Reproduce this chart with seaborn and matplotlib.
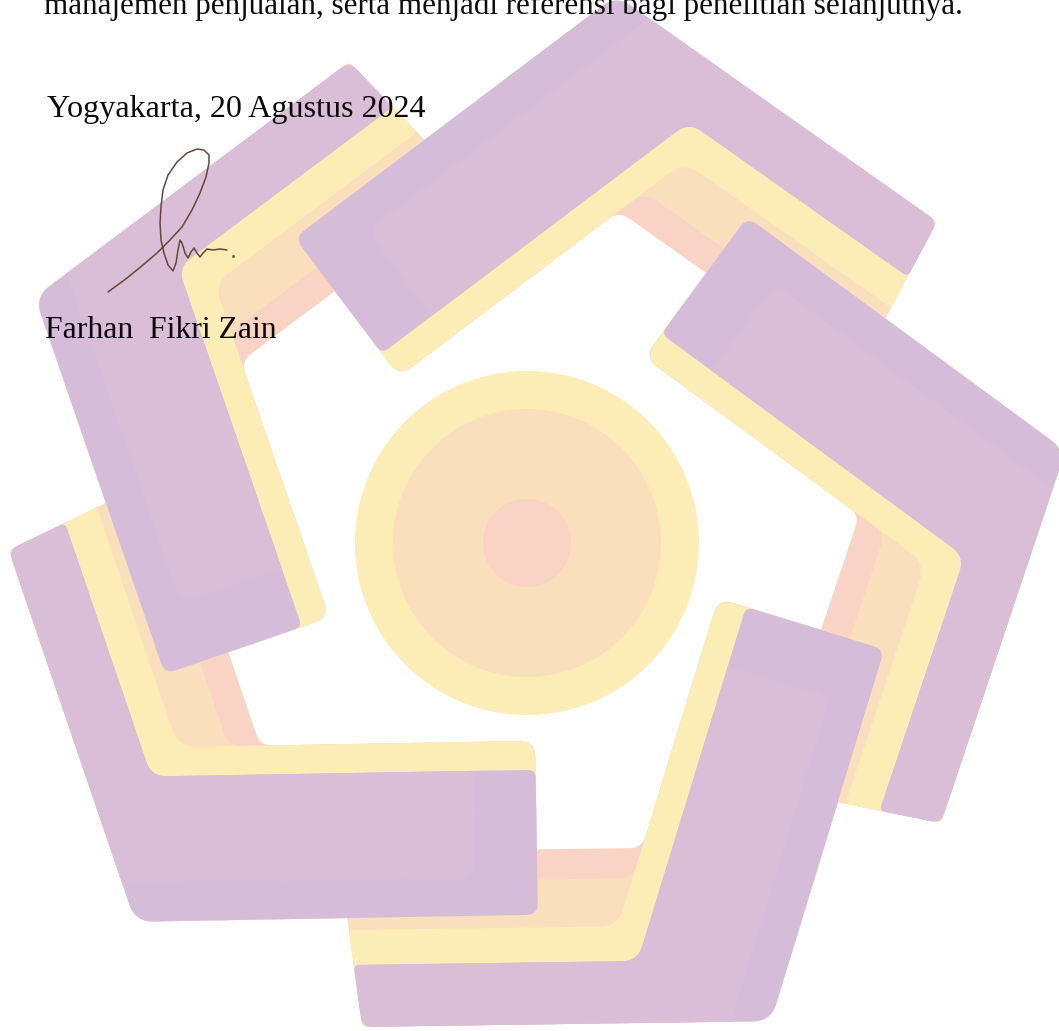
import numpy as np
import matplotlib
matplotlib.use("Agg")
import matplotlib.pyplot as plt
import seaborn as sns
import pandas as pd
from matplotlib.patches import Polygon, Circle, PathPatch
from matplotlib.path import Path

# ---------------- text content ----------------
body_line = "manajemen penjualan, serta menjadi referensi bagi penelitian selanjutnya."
place_date = "Yogyakarta, 20 Agustus 2024"
signer = "Farhan  Fikri Zain"
text_left = [44, 47, 45]
text_right = [965, 425, 277]
text_baseline = [14, 117, 338]

# ---------------- watermark logo ----------------
circle_center = (527, 543)
circle_radii = [172, 134, 44]
circle_colors = ["#fcecb6", "#fadfbd", "#f9d3c3"]

rot_center = (527, 538)
piece_angles = [0, -72, -144, -216, -288]
piece_tweak = [0.0, 0.0, 1.3, 0.0, 0.0]          # extra turn about own corner (deg)
piece_shift = [(0, 0), (0, -8), (-4, -7), (-2, -2), (-6, 13)]
thick_end_adj = [0, -14, -8, 0, -4]
thin_end_adj = [0, 16, 0, 0, 0]
draw_order = [1, 0, 4, 3, 2]

# reference piece (bottom-left one), pixel frame
thin_dir_deg = 71.2
thick_dir_deg = -1.0
thin_offsets = {"outer": -169, "purple": -107, "yellow": -72, "peach": -24, "pink": 6}
thick_offsets = {"outer": -924, "band": -886, "purple": -779, "inner": -750}
thick_end_pos = [522, 460]
thin_end_pts = [(9, 550), (102, 505)]

col_lavender = "#d5bdda"
col_purple = "#dabed7"
col_yellow = "#fcecb6"
col_peach = "#fadfbd"
col_pink = "#f9d3c3"

# signature stroke
sig_x = [108, 127, 143, 157, 170, 182, 192, 200, 206, 209, 209, 204, 197, 187, 177, 168, 163,
         161, 160, 161, 164, 168, 173, 176, 178, 180, 182, 185, 188, 191, 194, 197, 200, 203,
         207, 213, 220, 227]
sig_y = [292, 278, 265, 253, 240, 227, 210, 193, 177, 163, 155, 150, 149, 153, 162, 175, 190,
         207, 223, 240, 253, 265, 271, 263, 250, 240, 243, 253, 258, 252, 248, 253, 257, 253,
         249, 250, 249, 250]
sig_dot = (233, 256)

# ---------------- helpers ----------------
th = np.deg2rad(thin_dir_deg)
u = np.array([np.cos(th), np.sin(th)])
n_vec = np.array([u[1], -u[0]])
tk = np.deg2rad(thick_dir_deg)
v = np.array([np.cos(tk), np.sin(tk)])
m_vec = np.array([v[1], -v[0]])
p_a, p_b = np.array(thin_end_pts[0], float), np.array(thin_end_pts[1], float)
d_end = p_b - p_a
e_vec = np.array([-d_end[1], d_end[0]])
e_vec = e_vec / np.linalg.norm(e_vec)
if e_vec[1] < 0:
    e_vec = -e_vec
e_c0 = e_vec @ p_a


def inter(a1, c1, a2, c2):
    return np.linalg.solve(np.array([a1, a2]), np.array([c1, c2]))


def rounded(pts, radii, k=10):
    out = []
    nn = len(pts)
    for i in range(nn):
        p = pts[i]
        rr = radii[i]
        if rr <= 0:
            out.append(p)
            continue
        prv = pts[i - 1]
        nxt = pts[(i + 1) % nn]
        d1 = prv - p
        d2 = nxt - p
        l1 = np.linalg.norm(d1)
        l2 = np.linalg.norm(d2)
        r1 = min(rr, l1 / 2)
        r2 = min(rr, l2 / 2)
        a = p + d1 / l1 * r1
        b = p + d2 / l2 * r2
        t = np.linspace(0, 1, k)[:, None]
        out.extend((1 - t) ** 2 * a + 2 * (1 - t) * t * p + t ** 2 * b)
    return np.array(out)


def rot_about(P, ang, c):
    a = np.deg2rad(ang)
    c = np.asarray(c, float)
    d = np.asarray(P, float) - c
    R = np.array([[np.cos(a), -np.sin(a)], [np.sin(a), np.cos(a)]])
    return d @ R.T + c


vertex_local = inter(n_vec, thin_offsets["outer"], m_vec, thick_offsets["outer"])


def place(P, k):
    Q = rot_about(P, piece_angles[k], rot_center)
    vtx = rot_about(vertex_local[None, :], piece_angles[k], rot_center)[0]
    Q = rot_about(Q, piece_tweak[k], vtx)
    return Q + np.array(piece_shift[k], float)


def l_shape(s, h, end, ec, radii):
    pts = [
        inter(n_vec, thin_offsets["outer"], e_vec, ec),
        inter(n_vec, thin_offsets["outer"], m_vec, thick_offsets["outer"]),
        inter(m_vec, thick_offsets["outer"], v, end),
        inter(v, end, m_vec, h),
        inter(m_vec, h, n_vec, s),
        inter(n_vec, s, e_vec, ec),
    ]
    return rounded(pts, radii)


def band_shape(end2, ec):
    pts = [
        inter(n_vec, thin_offsets["outer"], e_vec, ec),
        inter(n_vec, thin_offsets["outer"], m_vec, thick_offsets["band"]),
        inter(m_vec, thick_offsets["band"], v, end2),
        inter(v, end2, m_vec, thick_offsets["purple"]),
        inter(m_vec, thick_offsets["purple"], n_vec, thin_offsets["purple"]),
        inter(n_vec, thin_offsets["purple"], e_vec, ec),
    ]
    return rounded(pts, [10, 0, 16, 0, 16, 6])


def piece_shapes(k):
    end = thick_end_pos[0] + thick_end_adj[k]
    end2 = thick_end_pos[1] + thick_end_adj[k]
    ec = e_c0 - thin_end_adj[k]
    shp = [
        (l_shape(thin_offsets["pink"], thick_offsets["inner"], end, ec, [6, 18, 12, 16, 12, 6]), col_pink),
        (l_shape(thin_offsets["peach"], thick_offsets["inner"], end, ec, [6, 18, 12, 16, 14, 6]), col_peach),
        (l_shape(thin_offsets["yellow"], thick_offsets["inner"], end, ec, [10, 18, 12, 18, 18, 6]), col_yellow),
        (l_shape(thin_offsets["purple"], thick_offsets["purple"], end, ec, [12, 18, 12, 8, 14, 6]), col_lavender),
        (band_shape(end2, ec), col_purple),
    ]
    return [(place(p, k), c) for p, c in shp]


def signed_area(P):
    x, y = P[:, 0], P[:, 1]
    return 0.5 * np.sum(x * np.roll(y, -1) - np.roll(x, -1) * y)


# ---------------- figure ----------------
sns.set_style("white")
plt.rcParams["font.family"] = ["Liberation Serif", "DejaVu Serif"]
fig = plt.figure(figsize=(10.59, 10.31), dpi=100)
ax = fig.add_axes([0, 0, 1, 1])
ax.set_xlim(0, 1059)
ax.set_ylim(1031, 0)
ax.axis("off")

for r, c in zip(circle_radii, circle_colors):
    ax.add_patch(Circle(circle_center, r, facecolor=c, edgecolor="none", zorder=1))

all_shapes = {k: piece_shapes(k) for k in range(5)}

# the last drawn piece must stay below the thick end of the first drawn one
first, last = draw_order[0], draw_order[-1]
outer_box = np.array([[-200, -200], [1300, -200], [1300, 1300], [-200, 1300]], float)
hole = all_shapes[first][0][0]
if np.sign(signed_area(outer_box)) == np.sign(signed_area(hole)):
    hole = hole[::-1]
verts = np.vstack([outer_box, outer_box[:1], hole, hole[:1]])
codes = ([Path.MOVETO] + [Path.LINETO] * 3 + [Path.CLOSEPOLY]
         + [Path.MOVETO] + [Path.LINETO] * (len(hole) - 1) + [Path.CLOSEPOLY])
clip_patch = PathPatch(Path(verts, codes), transform=ax.transData)

for z, k in enumerate(draw_order):
    for pts, c in all_shapes[k]:
        pp = Polygon(pts, closed=True, facecolor=c, edgecolor="none", zorder=2 + z * 0.01)
        ax.add_patch(pp)
        if k == last:
            pp.set_clip_path(clip_patch)

# ---------------- texts ----------------
texts = []
for s, x0, yb in zip([body_line, place_date, signer], text_left, text_baseline):
    texts.append(ax.text(x0, yb, s, ha="left", va="baseline", fontsize=20,
                         color="#0d0a0e", zorder=10))
fig.canvas.draw()
rend = fig.canvas.get_renderer()
for t, x0, x1 in zip(texts, text_left, text_right):
    w = t.get_window_extent(rend).width
    t.set_fontsize(t.get_fontsize() * (x1 - x0) / w)

# ---------------- signature ----------------
sig = pd.DataFrame({"x": sig_x, "y": sig_y})
sns.lineplot(data=sig, x="x", y="y", sort=False, estimator=None, color="#6a4535",
             linewidth=1.1, ax=ax, zorder=11)
ax.plot([sig_dot[0]], [sig_dot[1]], marker="o", markersize=1.2, color="#7a6a40", zorder=11)
ax.set_xlim(0, 1059)
ax.set_ylim(1031, 0)
ax.axis("off")

fig.savefig("out.png", dpi=100)
